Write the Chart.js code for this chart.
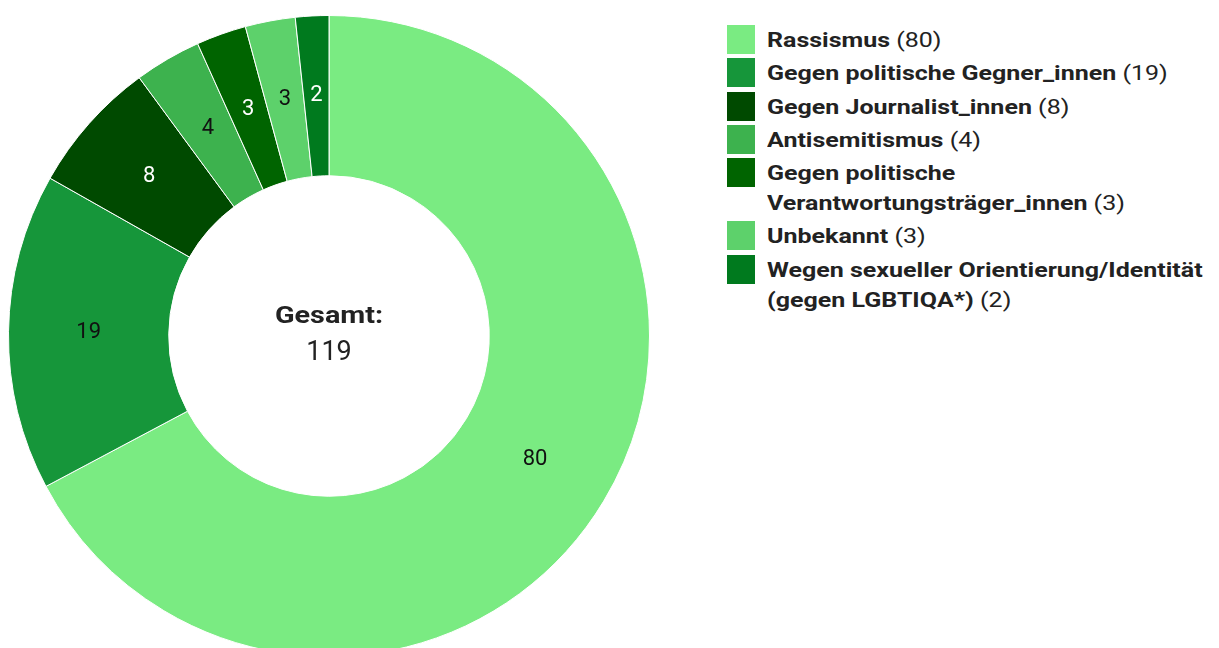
<!DOCTYPE html>
<html>
<head>
<meta charset="utf-8">
<script src="https://cdn.jsdelivr.net/npm/chart.js@4/dist/chart.umd.min.js"></script>
<style>
  html, body { margin: 0; padding: 0; background: #fff; overflow: hidden; }
  body { width: 1219px; height: 648px; position: relative; font-family: Roboto, sans-serif; }
  #chartBox { position: absolute; left: 8px; top: 15px; width: 642px; height: 642px; }
  #legend { position: absolute; left: 727px; top: 25px; width: 480px; }
  .item { display: flex; align-items: flex-start; margin-bottom: 3.3px; }
  .sw { width: 28px; height: 29px; flex: none; margin-right: 12px; }
  .txt { font-size: 21px; line-height: 30px; color: #222; max-width: 376px;
         transform: scaleX(1.19); transform-origin: left top; }
  .txt b { font-weight: 700; }
</style>
</head>
<body>
<div id="chartBox"><canvas id="donut"></canvas></div>
<div id="legend"></div>
<script>
  // Kategorien und Werte
  const labels = [
    'Rassismus',
    'Gegen politische Gegner_innen',
    'Gegen Journalist_innen',
    'Antisemitismus',
    'Gegen politische Verantwortungsträger_innen',
    'Unbekannt',
    'Wegen sexueller Orientierung/Identität (gegen LGBTIQA*)'
  ];
  const values = [80, 19, 8, 4, 3, 3, 2];
  const colors = ['#7aeb82', '#16963a', '#004a00', '#3db24e', '#006400', '#5dd16b', '#007a1e'];
  const labelColors = ['#111', '#111', '#fff', '#111', '#fff', '#111', '#fff'];
  const total = values.reduce((a, b) => a + b, 0);

  // Legende
  const legendEl = document.getElementById('legend');
  labels.forEach(function (l, i) {
    const item = document.createElement('div');
    item.className = 'item';
    item.innerHTML = '<div class="sw" style="background:' + colors[i] + '"></div>' +
      '<div class="txt"><b>' + l + '</b> (' + values[i] + ')</div>';
    legendEl.appendChild(item);
  });

  // Werte in den Segmenten + Gesamt in der Mitte
  const sliceLabels = {
    id: 'sliceLabels',
    afterDatasetsDraw(chart) {
      const ctx = chart.ctx;
      const meta = chart.getDatasetMeta(0);
      ctx.save();
      ctx.textAlign = 'center';
      ctx.textBaseline = 'middle';
      ctx.font = '22px Roboto';
      meta.data.forEach(function (arc, i) {
        const p = arc.tooltipPosition();
        ctx.fillStyle = labelColors[i];
        ctx.fillText(values[i], p.x, p.y);
      });
      const c = meta.data[0];
      ctx.fillStyle = '#222';
      // "Gesamt:" etwas breiter wie im Original
      ctx.save();
      ctx.translate(c.x, c.y - 19);
      ctx.scale(1.2, 1);
      ctx.font = 'bold 24px Roboto';
      ctx.fillText('Gesamt:', 0, 0);
      ctx.restore();
      ctx.font = '27px Roboto';
      ctx.fillText(total, c.x, c.y + 17);
      ctx.restore();
    }
  };

  new Chart(document.getElementById('donut'), {
    type: 'doughnut',
    data: {
      labels: labels,
      datasets: [{
        data: values,
        backgroundColor: colors,
        borderColor: '#fff',
        borderWidth: 1
      }]
    },
    options: {
      responsive: true,
      maintainAspectRatio: false,
      animation: false,
      cutout: '50%',
      layout: { padding: 0 },
      plugins: { legend: { display: false }, tooltip: { enabled: false } }
    },
    plugins: [sliceLabels]
  });
</script>
</body>
</html>
